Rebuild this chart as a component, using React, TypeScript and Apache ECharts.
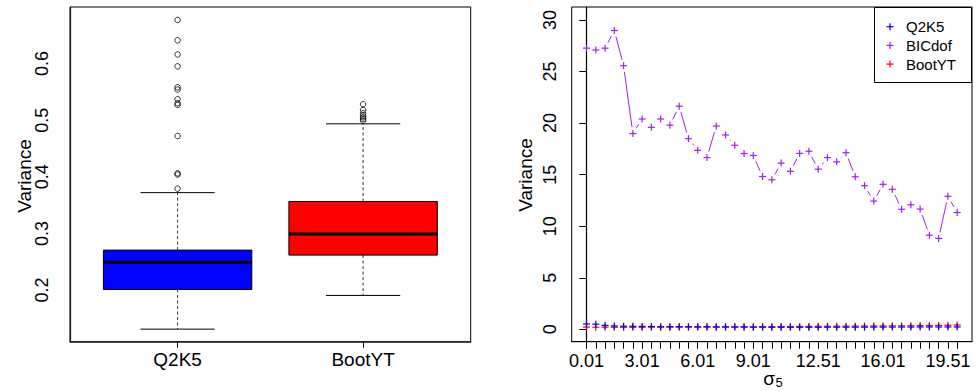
import React, { useEffect, useRef } from "react";
import * as echarts from "echarts";

// ---------- Left panel: box plot ----------
const boxCategories = ["Q2K5", "BootYT"];
const boxColors = ["#0000FF", "#FF0000"];
// [low whisker, Q1, median, Q3, high whisker]
const boxStats = [
  [0.131, 0.201, 0.249, 0.2705, 0.372],
  [0.1905, 0.2617, 0.2988, 0.3564, 0.4935],
];
const q2k5Outliers = [0.677, 0.641, 0.616, 0.595, 0.558, 0.554, 0.537, 0.530, 0.527, 0.472, 0.406, 0.404, 0.379];
const bootOutliers = [0.528, 0.518, 0.512, 0.508, 0.505, 0.502, 0.499];
const leftYTicks = [0.2, 0.3, 0.4, 0.5, 0.6];

// ---------- Right panel: variance vs sigma_5 ----------
const sigma = [
  0.01, 0.51, 1.01, 1.51, 2.01, 2.51, 3.01, 3.51, 4.01, 4.51,
  5.01, 5.51, 6.01, 6.51, 7.01, 7.51, 8.01, 8.51, 9.01, 9.51,
  10.01, 10.51, 11.01, 11.51, 12.01, 12.51, 13.01, 13.51, 14.01, 14.51,
  15.01, 15.51, 16.01, 16.51, 17.01, 17.51, 18.01, 18.51, 19.01, 19.51, 20.01,
];
const bicdof = [
  27.27, 27.09, 27.27, 28.98, 25.57, 18.99, 20.40, 19.59, 20.40, 19.80,
  21.64, 18.49, 17.36, 16.66, 19.72, 18.85, 17.85, 17.05, 16.86, 14.82,
  14.50, 16.12, 15.32, 17.06, 17.27, 15.53, 16.66, 16.24, 17.13, 14.80,
  13.93, 12.44, 14.06, 13.58, 11.64, 12.08, 11.66, 9.13, 8.82, 12.90, 11.33,
];
const q2k5 = [
  0.52, 0.50, 0.38, 0.33, 0.30, 0.29, 0.28, 0.27, 0.26, 0.26,
  0.25, 0.25, 0.24, 0.24, 0.23, 0.23, 0.22, 0.22, 0.21, 0.21,
  0.20, 0.20, 0.20, 0.20, 0.20, 0.20, 0.21, 0.21, 0.21, 0.21,
  0.21, 0.22, 0.22, 0.22, 0.22, 0.22, 0.23, 0.23, 0.23, 0.23, 0.23,
];
const bootyt = [
  0.22, 0.21, 0.21, 0.20, 0.20, 0.20, 0.20, 0.21, 0.21, 0.21,
  0.22, 0.22, 0.22, 0.23, 0.23, 0.24, 0.24, 0.25, 0.25, 0.26,
  0.26, 0.27, 0.27, 0.28, 0.28, 0.29, 0.29, 0.30, 0.30, 0.31,
  0.32, 0.32, 0.33, 0.34, 0.34, 0.35, 0.36, 0.37, 0.38, 0.39, 0.42,
];
const rightXLabels = [0.01, 3.01, 6.01, 9.01, 12.51, 16.01, 19.51];
const rightYTicks = [0, 5, 10, 15, 20, 25, 30];
const legendNames = ["Q2K5", "BICdof", "BootYT"];
const legendColors = ["#0000FF", "#A020F0", "#FF0000"];

const FONT = "'Liberation Sans', Arial, Helvetica, sans-serif";
const GAP = 6.3;
const ARM = 3.5;

function pointSeries(name: string, ys: number[], color: string) {
  const data = sigma.map((x, i) => [x, ys[i]]);
  return {
    type: "custom",
    name,
    xAxisIndex: 1,
    yAxisIndex: 1,
    encode: { x: 0, y: 1 },
    data,
    renderItem: (params: any, api: any) => {
      const i = params.dataIndex;
      const p = api.coord([api.value(0), api.value(1)]);
      const children: any[] = [
        { type: "line", shape: { x1: p[0] - ARM, y1: p[1], x2: p[0] + ARM, y2: p[1] }, style: { stroke: color, lineWidth: 1.2 } },
        { type: "line", shape: { x1: p[0], y1: p[1] - ARM, x2: p[0], y2: p[1] + ARM }, style: { stroke: color, lineWidth: 1.2 } },
      ];
      if (i < data.length - 1) {
        const q = api.coord([data[i + 1][0], data[i + 1][1]]);
        const dx = q[0] - p[0];
        const dy = q[1] - p[1];
        const len = Math.sqrt(dx * dx + dy * dy);
        if (len > 2 * GAP) {
          const ux = dx / len, uy = dy / len;
          children.push({
            type: "line",
            shape: { x1: p[0] + ux * GAP, y1: p[1] + uy * GAP, x2: q[0] - ux * GAP, y2: q[1] - uy * GAP },
            style: { stroke: color, lineWidth: 1 },
          });
        }
      }
      return { type: "group", children };
    },
  };
}

export default function App() {
  const ref = useRef<HTMLDivElement>(null);
  useEffect(() => {
    if (!ref.current) return;
    const chart = echarts.init(ref.current, undefined, { renderer: "svg" });

    const boxData = boxStats.map((s, i) => [i + 1, ...s]);
    const outlierData = [
      ...q2k5Outliers.map((v) => [1, v]),
      ...bootOutliers.map((v) => [2, v]),
    ];

    const legendChildren: any[] = [
      { type: "rect", shape: { x: 874.5, y: 7.5, width: 97, height: 75 }, style: { fill: "#fff", stroke: "#000", lineWidth: 1 } },
    ];
    legendNames.forEach((n, i) => {
      const y = 26.7 + i * 18.7;
      legendChildren.push(
        { type: "line", shape: { x1: 890 - ARM, y1: y, x2: 890 + ARM, y2: y }, style: { stroke: legendColors[i], lineWidth: 1.2 } },
        { type: "line", shape: { x1: 890, y1: y - ARM, x2: 890, y2: y + ARM }, style: { stroke: legendColors[i], lineWidth: 1.2 } },
        { type: "text", x: 906, y, style: { text: n, fontSize: 15, fontFamily: FONT, fill: "#000", align: "left", verticalAlign: "middle" } }
      );
    });

    const option: any = {
      animation: false,
      textStyle: { fontFamily: FONT },
      grid: [
        { left: 70, top: 7, width: 400.7, height: 334.7, show: true, borderColor: "#000", borderWidth: 1, outerBoundsMode: "none", containLabel: false },
        { left: 571.7, top: 7, width: 400.3, height: 334.7, show: true, borderColor: "#000", borderWidth: 1, outerBoundsMode: "none", containLabel: false },
      ],
      xAxis: [
        {
          type: "value", gridIndex: 0, min: 0.42, max: 2.58,
          axisLine: { show: true, onZero: false, lineStyle: { color: "#222", width: 1.5 } },
          splitLine: { show: false },
          axisTick: { show: true, customValues: [1, 2], length: 6, lineStyle: { color: "#000" } },
          axisLabel: {
            customValues: [1, 2], fontSize: 19, color: "#000", margin: 8, fontFamily: FONT,
            formatter: (v: number) => boxCategories[Math.round(v) - 1] ?? "",
          },
        },
        {
          type: "value", gridIndex: 1, min: -0.79, max: 20.81,
          axisLine: { show: true, onZero: false, lineStyle: { color: "#000", width: 1.2 } },
          splitLine: { show: false },
          axisTick: { show: true, customValues: sigma, length: 7, lineStyle: { color: "#000" } },
          axisLabel: {
            customValues: rightXLabels, fontSize: 18, color: "#000", margin: 10, fontFamily: FONT,
            formatter: (v: number) => v.toFixed(2),
          },
        },
      ],
      yAxis: [
        {
          type: "value", gridIndex: 0, min: 0.1088, max: 0.6998,
          axisLine: { show: true, lineStyle: { color: "#222", width: 1.3 } },
          axisTick: { show: false },
          splitLine: { show: false },
          axisLabel: {
            customValues: leftYTicks, rotate: 90, fontSize: 18, color: "#000", margin: 19, fontFamily: FONT,
            formatter: (v: number) => v.toFixed(1),
          },
        },
        {
          type: "value", gridIndex: 1, min: -1.2, max: 31.26,
          axisLine: { show: true, lineStyle: { color: "#000", width: 1.2 } },
          axisTick: { show: true, customValues: rightYTicks, length: 7, lineStyle: { color: "#000" } },
          splitLine: { show: false },
          axisLabel: {
            customValues: rightYTicks, rotate: 90, fontSize: 18, color: "#000", margin: 13, fontFamily: FONT,
            formatter: (v: number) => String(v),
          },
        },
      ],
      series: [
        {
          type: "custom",
          xAxisIndex: 0,
          yAxisIndex: 0,
          encode: { x: 0, y: [1, 2, 3, 4, 5] },
          data: boxData,
          renderItem: (params: any, api: any) => {
            const i = params.dataIndex;
            const x = api.value(0);
            const pl = api.coord([x - 0.4, api.value(1)]);
            const pr = api.coord([x + 0.4, api.value(1)]);
            const cx = (pl[0] + pr[0]) / 2;
            const half = (pr[0] - pl[0]) / 2;
            const yLow = api.coord([x, api.value(1)])[1];
            const yQ1 = api.coord([x, api.value(2)])[1];
            const yMed = api.coord([x, api.value(3)])[1];
            const yQ3 = api.coord([x, api.value(4)])[1];
            const yHigh = api.coord([x, api.value(5)])[1];
            const dash = { stroke: "#333", lineWidth: 1, lineDash: [3, 2.5] };
            return {
              type: "group",
              children: [
                { type: "line", shape: { x1: cx, y1: yQ3, x2: cx, y2: yHigh }, style: dash },
                { type: "line", shape: { x1: cx, y1: yQ1, x2: cx, y2: yLow }, style: dash },
                { type: "line", shape: { x1: cx - half / 2, y1: yHigh, x2: cx + half / 2, y2: yHigh }, style: { stroke: "#000", lineWidth: 1 } },
                { type: "line", shape: { x1: cx - half / 2, y1: yLow, x2: cx + half / 2, y2: yLow }, style: { stroke: "#000", lineWidth: 1 } },
                { type: "rect", shape: { x: cx - half, y: yQ3, width: 2 * half, height: yQ1 - yQ3 }, style: { fill: boxColors[i], stroke: "#000", lineWidth: 1 } },
                { type: "line", shape: { x1: cx - half, y1: yMed, x2: cx + half, y2: yMed }, style: { stroke: "#000", lineWidth: 3 } },
              ],
            };
          },
        },
        {
          type: "scatter",
          xAxisIndex: 0,
          yAxisIndex: 0,
          data: outlierData,
          symbol: "circle",
          symbolSize: 5.5,
          itemStyle: { color: "rgba(0,0,0,0)", borderColor: "#000", borderWidth: 1 },
        },
        pointSeries("BootYT", bootyt, "#FF0000"),
        pointSeries("Q2K5", q2k5, "#0000FF"),
        pointSeries("BICdof", bicdof, "#A020F0"),
      ],
      graphic: [
        { type: "text", x: 24, y: 176, rotation: Math.PI / 2, style: { text: "Variance", fontSize: 19, fontFamily: FONT, fill: "#000", align: "center", verticalAlign: "middle" } },
        { type: "text", x: 525, y: 175, rotation: Math.PI / 2, style: { text: "Variance", fontSize: 19, fontFamily: FONT, fill: "#000", align: "center", verticalAlign: "middle" } },
        { type: "text", x: 769, y: 378, style: { text: "σ", fontSize: 19, fontFamily: FONT, fill: "#000", align: "center", verticalAlign: "middle" } },
        { type: "text", x: 775.5, y: 382.5, style: { text: "5", fontSize: 13, fontFamily: FONT, fill: "#000", align: "left", verticalAlign: "middle" } },
        { type: "group", z: 100, children: legendChildren },
      ],
    };
    chart.setOption(option);
    return () => chart.dispose();
  }, []);
  return <div ref={ref} style={{ position: "fixed", left: 0, top: 0, width: 977, height: 391, background: "#fff" }} />;
}
